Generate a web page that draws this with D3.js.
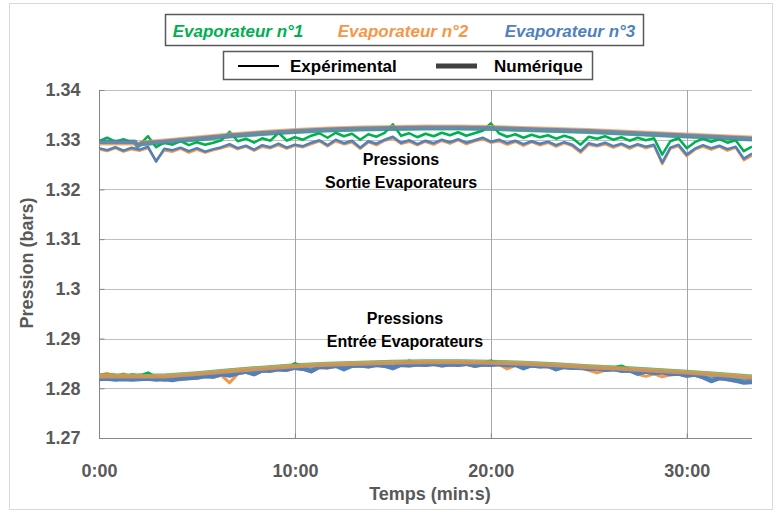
<!DOCTYPE html>
<html>
<head>
<meta charset="utf-8">
<script src="https://cdn.jsdelivr.net/npm/d3@7"></script>
<style>
  body { margin: 0; background: #fff; }
  text { font-family: "Liberation Sans", Arial, sans-serif; }
</style>
</head>
<body>
<svg id="chart"></svg>
<script>
// sampling of the experimental records (s)
const expTimes = d3.range(0, 2001, 25);

// Sortie evaporateurs - experimental (bars)
const outletExpGreen = [1.3297,1.3304,1.3296,1.3301,1.3295,1.3290,1.3307,1.3285,1.3294,1.3290,1.3297,1.3289,1.3295,1.3290,1.3294,1.3299,1.3316,1.3297,1.3302,1.3294,1.3303,1.3298,1.3314,1.3298,1.3305,1.3300,1.3308,1.3313,1.3304,1.3314,1.3307,1.3312,1.3300,1.3311,1.3306,1.3314,1.3331,1.3308,1.3313,1.3305,1.3312,1.3307,1.3314,1.3309,1.3315,1.3308,1.3313,1.3318,1.3333,1.3313,1.3306,1.3311,1.3304,1.3310,1.3305,1.3309,1.3302,1.3308,1.3303,1.3290,1.3306,1.3302,1.3307,1.3300,1.3305,1.3298,1.3304,1.3299,1.3303,1.3270,1.3297,1.3303,1.3283,1.3295,1.3302,1.3296,1.3301,1.3294,1.3299,1.3277,1.3286];
const outletExpOrange = [1.3281,1.3277,1.3283,1.3276,1.3281,1.3278,1.3283,1.3258,1.3279,1.3276,1.3282,1.3274,1.3280,1.3274,1.3279,1.3283,1.3288,1.3281,1.3286,1.3278,1.3286,1.3283,1.3289,1.3282,1.3288,1.3285,1.3291,1.3297,1.3287,1.3297,1.3291,1.3295,1.3282,1.3295,1.3289,1.3298,1.3303,1.3292,1.3296,1.3289,1.3296,1.3290,1.3298,1.3292,1.3299,1.3291,1.3297,1.3301,1.3294,1.3297,1.3290,1.3296,1.3288,1.3295,1.3289,1.3294,1.3286,1.3293,1.3287,1.3274,1.3290,1.3287,1.3291,1.3284,1.3290,1.3282,1.3289,1.3283,1.3288,1.3251,1.3282,1.3287,1.3267,1.3280,1.3286,1.3280,1.3286,1.3278,1.3284,1.3259,1.3268];
const outletExpBlue = [1.3283,1.3279,1.3285,1.3278,1.3284,1.3280,1.3286,1.3256,1.3282,1.3279,1.3284,1.3277,1.3283,1.3276,1.3281,1.3285,1.3291,1.3283,1.3288,1.3280,1.3289,1.3285,1.3292,1.3284,1.3290,1.3287,1.3294,1.3299,1.3289,1.3300,1.3293,1.3298,1.3284,1.3297,1.3292,1.3300,1.3306,1.3294,1.3299,1.3291,1.3298,1.3293,1.3300,1.3295,1.3301,1.3294,1.3299,1.3304,1.3296,1.3300,1.3293,1.3298,1.3291,1.3297,1.3292,1.3296,1.3289,1.3295,1.3290,1.3277,1.3293,1.3289,1.3294,1.3287,1.3292,1.3285,1.3291,1.3286,1.3290,1.3254,1.3284,1.3290,1.3270,1.3282,1.3289,1.3283,1.3288,1.3281,1.3286,1.3262,1.3272];

// Entree evaporateurs - experimental (bars)
const inletExpGreen = [1.2825,1.2828,1.2826,1.2823,1.2827,1.2825,1.2831,1.2822,1.2820,1.2819,1.2821,1.2822,1.2824,1.2826,1.2825,1.2829,1.2827,1.2832,1.2835,1.2831,1.2838,1.2837,1.2840,1.2839,1.2850,1.2842,1.2836,1.2845,1.2844,1.2847,1.2841,1.2847,1.2848,1.2846,1.2849,1.2847,1.2843,1.2849,1.2855,1.2850,1.2849,1.2851,1.2848,1.2850,1.2849,1.2851,1.2847,1.2850,1.2855,1.2851,1.2848,1.2849,1.2843,1.2848,1.2846,1.2847,1.2841,1.2845,1.2843,1.2844,1.2841,1.2842,1.2839,1.2841,1.2845,1.2838,1.2832,1.2835,1.2832,1.2834,1.2830,1.2831,1.2827,1.2829,1.2824,1.2818,1.2822,1.2820,1.2817,1.2814,1.2816];
const inletExpOrange = [1.2826,1.2830,1.2824,1.2829,1.2823,1.2827,1.2822,1.2819,1.2816,1.2818,1.2817,1.2819,1.2820,1.2823,1.2822,1.2826,1.2811,1.2829,1.2832,1.2827,1.2835,1.2834,1.2837,1.2836,1.2840,1.2838,1.2833,1.2842,1.2841,1.2844,1.2839,1.2844,1.2845,1.2843,1.2846,1.2844,1.2841,1.2846,1.2845,1.2847,1.2846,1.2848,1.2845,1.2847,1.2846,1.2848,1.2844,1.2847,1.2846,1.2848,1.2839,1.2846,1.2841,1.2845,1.2843,1.2844,1.2837,1.2842,1.2840,1.2841,1.2836,1.2831,1.2836,1.2838,1.2834,1.2835,1.2828,1.2824,1.2829,1.2823,1.2827,1.2828,1.2824,1.2826,1.2821,1.2816,1.2819,1.2817,1.2814,1.2813,1.2815];
const inletExpBlue = [1.2818,1.2819,1.2817,1.2818,1.2817,1.2818,1.2819,1.2817,1.2818,1.2816,1.2819,1.2820,1.2821,1.2824,1.2823,1.2828,1.2825,1.2830,1.2833,1.2828,1.2836,1.2835,1.2838,1.2837,1.2841,1.2839,1.2834,1.2843,1.2842,1.2845,1.2838,1.2845,1.2846,1.2844,1.2847,1.2845,1.2840,1.2847,1.2846,1.2848,1.2847,1.2849,1.2846,1.2848,1.2847,1.2849,1.2845,1.2848,1.2847,1.2849,1.2846,1.2847,1.2840,1.2846,1.2844,1.2845,1.2838,1.2843,1.2841,1.2842,1.2839,1.2840,1.2837,1.2839,1.2835,1.2836,1.2829,1.2833,1.2830,1.2832,1.2828,1.2829,1.2825,1.2827,1.2822,1.2814,1.2820,1.2818,1.2815,1.2811,1.2812];

// numerical model
const outletNumTimes = [0,110,118,130,200,300,400,500,600,700,800,900,1000,1100,1200,1300,1400,1500,1600,1700,1800,1900,2000];
const outletNumGreen = [1.3295,1.3295,1.3288,1.3292,1.3295,1.3301,1.3307,1.3312,1.3316,1.3319,1.3321,1.3322,1.3323,1.3323,1.3322,1.3320,1.3318,1.3316,1.3313,1.3310,1.3307,1.3304,1.3301];
const outletNumOrange = [1.3293,1.3293,1.3289,1.3294,1.3298,1.3304,1.3310,1.3315,1.3319,1.3322,1.3324,1.3325,1.3326,1.3326,1.3325,1.3323,1.3321,1.3319,1.3316,1.3313,1.3310,1.3307,1.3304];
const outletNumBlue = [1.3296,1.3296,1.3287,1.3292,1.3296,1.3302,1.3308,1.3313,1.3317,1.3320,1.3322,1.3323,1.3324,1.3324,1.3323,1.3321,1.3319,1.3317,1.3314,1.3311,1.3308,1.3305,1.3302];

const inletNumTimes = [0,200,300,400,500,600,700,800,900,1000,1100,1200,1300,1400,1500,1600,1700,1800,1900,2000];
const inletNumGreen = [1.2825,1.2825,1.2830,1.2836,1.2841,1.2846,1.2849,1.2851,1.2853,1.2854,1.2854,1.2853,1.2851,1.2848,1.2844,1.2841,1.2837,1.2833,1.2828,1.2823];
const inletNumOrange = [1.2824,1.2824,1.2829,1.2835,1.2840,1.2845,1.2848,1.2850,1.2852,1.2853,1.2853,1.2852,1.2850,1.2847,1.2843,1.2840,1.2836,1.2832,1.2827,1.2822];
const inletNumBlue = [1.2821,1.2821,1.2826,1.2832,1.2837,1.2842,1.2845,1.2847,1.2849,1.2850,1.2850,1.2849,1.2847,1.2844,1.2840,1.2837,1.2833,1.2829,1.2824,1.2819];

const yTickValues = [1.27, 1.28, 1.29, 1.30, 1.31, 1.32, 1.33, 1.34];
const yTickLabels = ['1.27', '1.28', '1.29', '1.3', '1.31', '1.32', '1.33', '1.34'];
const xTickValues = [0, 600, 1200, 1800];
const xTickLabels = ['0:00', '10:00', '20:00', '30:00'];

const evapNames = ['Evaporateur n°1', 'Evaporateur n°2', 'Evaporateur n°3'];
const evapColors = ['#00B050', '#F79646', '#4F81BD'];

const W = 781, H = 514;
const plot = { left: 99, right: 752, top: 90, bottom: 438 };

const svg = d3.select('#chart').attr('width', W).attr('height', H);

// chart area frame
svg.append('rect')
    .attr('x', 9.5).attr('y', 3.5)
    .attr('width', 763).attr('height', 506)
    .attr('fill', 'none')
    .attr('stroke', '#D9D9D9');

const x = d3.scaleLinear().domain([0, 2000]).range([plot.left, plot.right]);
const y = d3.scaleLinear().domain([1.27, 1.34]).range([plot.bottom, plot.top]);

// gridlines
svg.append('g')
    .selectAll('line')
    .data(yTickValues.slice(1))
    .join('line')
    .attr('x1', plot.left).attr('x2', plot.right)
    .attr('y1', d => Math.round(y(d)) + 0.5).attr('y2', d => Math.round(y(d)) + 0.5)
    .attr('stroke', '#BFBFBF');

svg.append('g')
    .selectAll('line')
    .data(xTickValues.slice(1))
    .join('line')
    .attr('y1', plot.top).attr('y2', plot.bottom)
    .attr('x1', d => Math.round(x(d)) + 0.5).attr('x2', d => Math.round(x(d)) + 0.5)
    .attr('stroke', '#A6A6A6');

// axes
const yAxis = d3.axisLeft(y).tickValues(yTickValues).tickSize(-5)
    .tickFormat((d, i) => yTickLabels[i]).tickPadding(19);
const xAxis = d3.axisBottom(x).tickValues(xTickValues).tickSize(-5)
    .tickFormat((d, i) => xTickLabels[i]).tickPadding(26);

const gy = svg.append('g')
    .attr('transform', `translate(${plot.left + 0.5},0)`)
    .call(yAxis);
const gx = svg.append('g')
    .attr('transform', `translate(0,${plot.bottom + 0.5})`)
    .call(xAxis);

[gx, gy].forEach(g => {
    g.select('.domain').attr('stroke', '#868686');
    g.selectAll('.tick line').attr('stroke', '#868686');
    g.selectAll('.tick text')
        .attr('fill', '#595959')
        .style('font-size', '18px')
        .style('font-weight', 'bold')
        .style('font-family', '"Liberation Sans", Arial, sans-serif');
});
gx.select('.domain').attr('d', `M${plot.left},0H${plot.right}`);
gy.select('.domain').attr('d', `M0,${plot.bottom}V${plot.top}`);

// axis titles
svg.append('text')
    .attr('x', 430).attr('y', 500)
    .attr('text-anchor', 'middle')
    .attr('fill', '#595959')
    .style('font-size', '18px').style('font-weight', 'bold')
    .text('Temps (min:s)');

svg.append('text')
    .attr('transform', 'translate(33,263) rotate(-90)')
    .attr('text-anchor', 'middle')
    .attr('fill', '#595959')
    .style('font-size', '18px').style('font-weight', 'bold')
    .text('Pression (bars)');

// series
svg.append('clipPath').attr('id', 'clip')
    .append('rect')
    .attr('x', plot.left).attr('y', plot.top)
    .attr('width', plot.right - plot.left).attr('height', plot.bottom - plot.top);

const lines = svg.append('g').attr('clip-path', 'url(#clip)');

const expSeries = [
    { times: expTimes, values: outletExpGreen, color: evapColors[0], width: 2.5 },
    { times: expTimes, values: outletExpOrange, color: evapColors[1], width: 2.5 },
    { times: expTimes, values: outletExpBlue, color: evapColors[2], width: 2.5 },
    { times: expTimes, values: inletExpGreen, color: evapColors[0], width: 3 },
    { times: expTimes, values: inletExpOrange, color: evapColors[1], width: 3 },
    { times: expTimes, values: inletExpBlue, color: evapColors[2], width: 4 }
];
const numSeries = [
    { times: outletNumTimes, values: outletNumGreen, color: evapColors[0], width: 4.5 },
    { times: outletNumTimes, values: outletNumOrange, color: evapColors[1], width: 4.5 },
    { times: outletNumTimes, values: outletNumBlue, color: evapColors[2], width: 4.5 },
    { times: inletNumTimes, values: inletNumGreen, color: evapColors[0], width: 4.5 },
    { times: inletNumTimes, values: inletNumBlue, color: evapColors[2], width: 4.5 },
    { times: inletNumTimes, values: inletNumOrange, color: evapColors[1], width: 4.5 }
];

function drawSeries(list, opacity) {
    list.forEach(s => {
        const line = d3.line()
            .x((d, i) => x(s.times[i]))
            .y(d => y(d));
        lines.append('path')
            .datum(s.values)
            .attr('d', line)
            .attr('fill', 'none')
            .attr('stroke', s.color)
            .attr('stroke-width', s.width)
            .attr('stroke-linejoin', 'round')
            .attr('opacity', opacity);
    });
}
drawSeries(expSeries, 1);
drawSeries(numSeries, 0.75);

// annotations
const notes = [
    { lines: ['Pressions', 'Sortie Evaporateurs'], cx: 401, y: 165 },
    { lines: ['Pressions', 'Entrée Evaporateurs'], cx: 405, y: 324 }
];
notes.forEach(n => {
    n.lines.forEach((t, i) => {
        svg.append('text')
            .attr('x', n.cx).attr('y', n.y + i * 22.5)
            .attr('text-anchor', 'middle')
            .attr('fill', '#000')
            .style('font-size', '16px').style('font-weight', 'bold')
            .text(t);
    });
});

// legend 1 : evaporators
svg.append('rect')
    .attr('x', 165.5).attr('y', 14.5).attr('width', 478).attr('height', 31)
    .attr('fill', '#fff').attr('stroke', '#595959').attr('stroke-width', 1.5);
const legendX = [238, 403, 570];
evapNames.forEach((name, i) => {
    svg.append('text')
        .attr('x', legendX[i]).attr('y', 37)
        .attr('text-anchor', 'middle')
        .attr('fill', evapColors[i])
        .style('font-size', '17px').style('font-weight', 'bold').style('font-style', 'italic')
        .text(name);
});

// legend 2 : line types
svg.append('rect')
    .attr('x', 223.5).attr('y', 51.5).attr('width', 369).attr('height', 28)
    .attr('fill', '#fff').attr('stroke', '#595959').attr('stroke-width', 1.5);
const lineTypes = [
    { label: 'Expérimental', x1: 238, x2: 279, tx: 290, width: 2, color: '#000' },
    { label: 'Numérique', x1: 436, x2: 477, tx: 494, width: 5, color: '#404040' }
];
lineTypes.forEach(l => {
    svg.append('line')
        .attr('x1', l.x1).attr('x2', l.x2).attr('y1', 66).attr('y2', 66)
        .attr('stroke', l.color).attr('stroke-width', l.width);
    svg.append('text')
        .attr('x', l.tx).attr('y', 72)
        .attr('fill', '#000')
        .style('font-size', '17px').style('font-weight', 'bold')
        .text(l.label);
});
</script>
</body>
</html>
